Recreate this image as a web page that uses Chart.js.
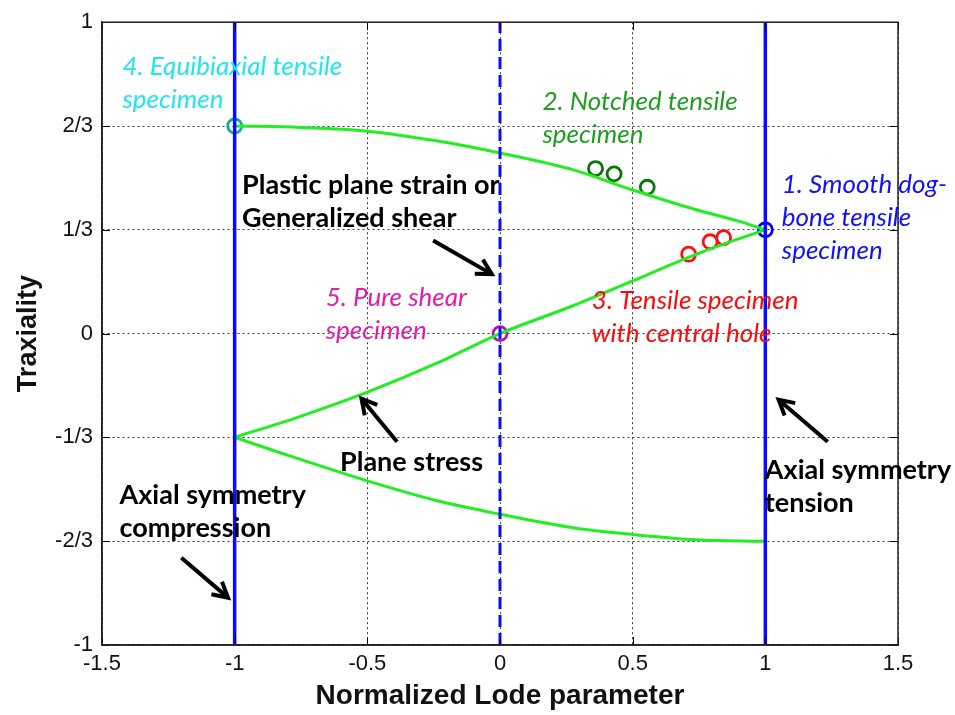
<!DOCTYPE html>
<html>
<head>
<meta charset="utf-8">
<script src="https://cdn.jsdelivr.net/npm/chart.js@4.4.1/dist/chart.umd.min.js"></script>
<style>
  html, body { margin: 0; padding: 0; background: #ffffff; }
  #wrap { width: 955px; height: 715px; position: relative; }
</style>
</head>
<body>
<div id="wrap"><canvas id="chart"></canvas></div>
<script>
// Axis ticks
const xTickValues = [-1.5, -1, -0.5, 0, 0.5, 1, 1.5];
const yTickValues = [-1, -2/3, -1/3, 0, 1/3, 2/3, 1];
const yTickLabels = ['-1', '-2/3', '-1/3', '0', '1/3', '2/3', '1'];

// Plane stress locus: upper branch (equibiaxial -> uniaxial tension)
const upperX = [-1, -0.75, -0.5, -0.24, 0, 0.28, 0.5, 0.73, 0.9, 1];
const upperY = [0.667, 0.662, 0.650, 0.619, 0.580, 0.525, 0.461, 0.400, 0.361, 0.333];

// Middle branch (uniaxial compression -> shear -> uniaxial tension)
const middleX = [-1, -0.76, -0.5, -0.24, 0, 0.28, 0.5, 0.71, 0.85, 1];
const middleY = [-0.333, -0.268, -0.188, -0.096, 0, 0.091, 0.169, 0.245, 0.290, 0.333];

// Lower branch (uniaxial compression -> equibiaxial compression)
const lowerX = [-1, -0.82, -0.5, -0.24, 0, 0.28, 0.5, 0.74, 1];
const lowerY = [-0.333, -0.385, -0.473, -0.536, -0.580, -0.624, -0.645, -0.662, -0.667];

// Specimens
const smoothX = [1],        smoothY = [1/3];
const notchedX = [0.36, 0.43, 0.555], notchedY = [0.530, 0.513, 0.470];
const holeX = [0.711, 0.792, 0.843],  holeY = [0.255, 0.295, 0.308];
const biaxialX = [-1],      biaxialY = [2/3];
const shearX = [0],         shearY = [0];

// Limiting states drawn as vertical lines
const axialCompressionX = -1;
const planeStrainX = 0;
const axialTensionX = 1;
const verticalSpan = [-1, 1];

const pts = (xs, ys) => xs.map((x, i) => ({ x: x, y: ys[i] }));
const vline = x => verticalSpan.map(y => ({ x: x, y: y }));

const LABEL_FONT = 'Lato, "Open Sans", sans-serif';
const AXIS_FONT = '"Liberation Sans", Arial, sans-serif';

// Annotation texts (data coordinates of left edge / vertical middle)
const notes = [
  { lines: ['4. Equibiaxial tensile', 'specimen'], x: -1.423, y: 0.858, color: '#1ee6f2', style: 'italic' },
  { lines: ['2. Notched tensile', 'specimen'], x: 0.160, y: 0.744, color: '#1f9e1f', style: 'italic' },
  { lines: ['Plastic plane strain or', 'Generalized shear'], x: -0.972, y: 0.476, color: '#000000', style: 'bold' },
  { lines: ['1. Smooth dog-', 'bone tensile', 'specimen'], x: 1.062, y: 0.479, color: '#1010ff', style: 'italic' },
  { lines: ['5. Pure shear', 'specimen'], x: -0.657, y: 0.115, color: '#e01cb0', style: 'italic' },
  { lines: ['3. Tensile specimen', 'with central hole'], x: 0.346, y: 0.105, color: '#ff0a0a', style: 'italic' },
  { lines: ['Plane stress'], x: -0.603, y: -0.412, color: '#000000', style: 'bold' },
  { lines: ['Axial symmetry', 'compression'], x: -1.434, y: -0.518, color: '#000000', style: 'bold' },
  { lines: ['Axial symmetry', 'tension'], x: 0.998, y: -0.438, color: '#000000', style: 'bold' }
];

// Pointer arrows: tail -> head
const arrows = [
  { x0: -0.252, y0: 0.299, x1: -0.031, y1: 0.191 },
  { x0: -0.388, y0: -0.347, x1: -0.522, y1: -0.209 },
  { x0: -1.201, y0: -0.720, x1: -1.025, y1: -0.848 },
  { x0: 1.235, y0: -0.347, x1: 1.050, y1: -0.212 }
];

const frameAndNotes = {
  id: 'frameAndNotes',
  afterDatasetsDraw(chart) {
    const { ctx, chartArea: a, scales } = chart;
    const xs = scales.x, ys = scales.y;
    ctx.save();

    // inward tick marks on all four sides
    ctx.strokeStyle = '#000';
    ctx.lineWidth = 1;
    const tl = 8;
    xTickValues.forEach(v => {
      const px = Math.round(xs.getPixelForValue(v)) + 0.5;
      ctx.beginPath();
      ctx.moveTo(px, a.bottom); ctx.lineTo(px, a.bottom - tl);
      ctx.moveTo(px, a.top); ctx.lineTo(px, a.top + tl);
      ctx.stroke();
    });
    yTickValues.forEach(v => {
      const py = Math.round(ys.getPixelForValue(v)) + 0.5;
      ctx.beginPath();
      ctx.moveTo(a.left, py); ctx.lineTo(a.left + tl, py);
      ctx.moveTo(a.right, py); ctx.lineTo(a.right - tl, py);
      ctx.stroke();
    });

    // box
    ctx.strokeStyle = '#222';
    ctx.lineWidth = 1.5;
    ctx.strokeRect(a.left, a.top, a.right - a.left, a.bottom - a.top);

    // annotation text
    ctx.textBaseline = 'middle';
    ctx.textAlign = 'left';
    const lineGap = 33;
    notes.forEach(n => {
      ctx.fillStyle = n.color;
      ctx.font = (n.style === 'bold' ? 'bold 27px ' : 'italic 26px ') + LABEL_FONT;
      const px = xs.getPixelForValue(n.x);
      const py = ys.getPixelForValue(n.y);
      n.lines.forEach((t, i) => ctx.fillText(t, px, py + i * lineGap));
    });

    // arrows
    ctx.strokeStyle = '#000';
    ctx.lineWidth = 4;
    ctx.lineCap = 'butt';
    ctx.lineJoin = 'miter';
    arrows.forEach(ar => {
      const x0 = xs.getPixelForValue(ar.x0), y0 = ys.getPixelForValue(ar.y0);
      const x1 = xs.getPixelForValue(ar.x1), y1 = ys.getPixelForValue(ar.y1);
      const ang = Math.atan2(y1 - y0, x1 - x0);
      ctx.beginPath();
      ctx.moveTo(x0, y0); ctx.lineTo(x1 - 2 * Math.cos(ang), y1 - 2 * Math.sin(ang));
      ctx.stroke();
      const hl = 17, spread = 0.5;
      ctx.beginPath();
      ctx.moveTo(x1 - hl * Math.cos(ang - spread), y1 - hl * Math.sin(ang - spread));
      ctx.lineTo(x1, y1);
      ctx.lineTo(x1 - hl * Math.cos(ang + spread), y1 - hl * Math.sin(ang + spread));
      ctx.stroke();
    });
    ctx.restore();
  }
};

const curveStyle = { showLine: true, borderColor: '#22ee22', borderWidth: 3, pointRadius: 0, cubicInterpolationMode: 'monotone', fill: false };
const markerStyle = (c) => ({ showLine: false, pointRadius: 7, pointHoverRadius: 7, borderColor: c, pointBorderWidth: 2.8, backgroundColor: 'rgba(0,0,0,0)', pointStyle: 'circle' });

new Chart(document.getElementById('chart'), {
  type: 'scatter',
  data: {
    datasets: [
      { label: 'Axial symmetry compression', data: vline(axialCompressionX), showLine: true, borderColor: '#0a0aff', borderWidth: 3.5, pointRadius: 0 },
      { label: 'Plane strain', data: vline(planeStrainX), showLine: true, borderColor: '#0a0aff', borderWidth: 3, borderDash: [12, 6], pointRadius: 0 },
      { label: 'Axial symmetry tension', data: vline(axialTensionX), showLine: true, borderColor: '#0a0aff', borderWidth: 3.5, pointRadius: 0 },
      Object.assign({ label: 'Plane stress upper', data: pts(upperX, upperY) }, curveStyle),
      Object.assign({ label: 'Plane stress middle', data: pts(middleX, middleY) }, curveStyle),
      Object.assign({ label: 'Plane stress lower', data: pts(lowerX, lowerY) }, curveStyle),
      Object.assign({ label: 'Smooth dog-bone', data: pts(smoothX, smoothY) }, markerStyle('#0000ff')),
      Object.assign({ label: 'Notched tensile', data: pts(notchedX, notchedY) }, markerStyle('#0b760b')),
      Object.assign({ label: 'Central hole', data: pts(holeX, holeY) }, markerStyle('#ff1010')),
      Object.assign({ label: 'Equibiaxial', data: pts(biaxialX, biaxialY) }, markerStyle('#18a6a6')),
      Object.assign({ label: 'Pure shear', data: pts(shearX, shearY) }, markerStyle('#b012c4'))
    ]
  },
  options: {
    responsive: true,
    maintainAspectRatio: false,
    animation: false,
    events: [],
    layout: { padding: { top: 20, right: 57, left: 0, bottom: 0 } },
    plugins: { legend: { display: false }, tooltip: { enabled: false } },
    scales: {
      x: {
        type: 'linear', min: -1.5, max: 1.5,
        afterBuildTicks: s => { s.ticks = xTickValues.map(v => ({ value: v })); },
        afterFit: s => { s.height = 70; },
        ticks: { color: '#111', font: { family: AXIS_FONT, size: 22 }, padding: 6,
                 callback: v => String(v) },
        grid: { color: '#3a3a3a', lineWidth: 1, drawTicks: false },
        border: { display: true, color: '#222', width: 1.5, dash: [2, 3] },
        title: { display: true, text: 'Normalized Lode parameter', color: '#111',
                 font: { family: AXIS_FONT, size: 28, weight: 'bold' },
                 padding: { top: 0, bottom: 2 } }
      },
      y: {
        type: 'linear', min: -1, max: 1,
        afterBuildTicks: s => { s.ticks = yTickValues.map(v => ({ value: v })); },
        afterFit: s => { s.width = 102; },
        ticks: { color: '#111', font: { family: AXIS_FONT, size: 22 }, padding: 9,
                 callback: (v, i) => yTickLabels[i] },
        grid: { color: '#3a3a3a', lineWidth: 1, drawTicks: false },
        border: { display: true, color: '#222', width: 1.5, dash: [2, 3] },
        title: { display: true, text: 'Traxiality', color: '#111',
                 font: { family: AXIS_FONT, size: 27, weight: 'bold' },
                 padding: { top: 12, bottom: 0 } }
      }
    }
  },
  plugins: [frameAndNotes]
});
</script>
</body>
</html>
